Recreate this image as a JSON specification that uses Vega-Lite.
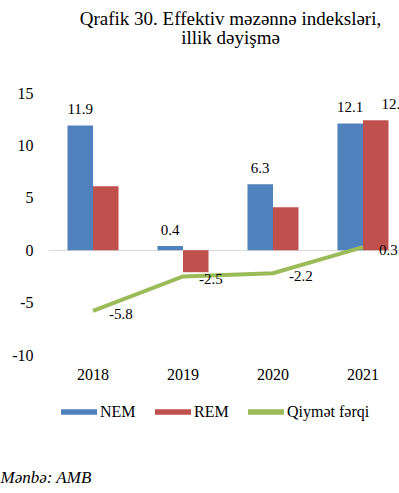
{
  "$schema": "https://vega.github.io/schema/vega-lite/v6.json",
  "width": 351,
  "height": 262,
  "autosize": {"type": "none"},
  "padding": {"left": 48, "top": 93, "right": 0, "bottom": 138},
  "background": "white",
  "config": {
    "view": {"stroke": null},
    "font": "Liberation Serif",
    "locale": {"number": {"decimal": ".", "thousands": ",", "grouping": [3], "currency": ["$", ""], "minus": "-"}}
  },
  "title": {
    "text": ["Qrafik 30. Effektiv məzənnə indeksləri,", "illik dəyişmə"],
    "font": "Liberation Serif",
    "fontSize": 19,
    "fontWeight": "normal",
    "anchor": "middle",
    "frame": "group",
    "dx": 7,
    "offset": 37,
    "lineHeight": 19,
    "color": "black"
  },
  "data": {
    "values": [
      {"year": "2018", "series": "NEM", "value": 11.9},
      {"year": "2018", "series": "REM", "value": 6.1},
      {"year": "2018", "series": "Qiymət fərqi", "value": -5.8},
      {"year": "2019", "series": "NEM", "value": 0.4},
      {"year": "2019", "series": "REM", "value": -2.1},
      {"year": "2019", "series": "Qiymət fərqi", "value": -2.5},
      {"year": "2020", "series": "NEM", "value": 6.3},
      {"year": "2020", "series": "REM", "value": 4.1},
      {"year": "2020", "series": "Qiymət fərqi", "value": -2.2},
      {"year": "2021", "series": "NEM", "value": 12.1},
      {"year": "2021", "series": "REM", "value": 12.4},
      {"year": "2021", "series": "Qiymət fərqi", "value": 0.3}
    ]
  },
  "encoding": {
    "x": {
      "field": "year", "type": "nominal",
      "scale": {"range": [0, 360], "paddingInner": 0.433, "paddingOuter": 0.2167},
      "axis": {
        "title": "Mənbə: AMB",
        "titleFont": "Liberation Serif",
        "titleFontStyle": "italic",
        "titleFontWeight": "normal",
        "titleFontSize": 17,
        "titleColor": "black",
        "titleAnchor": "start",
        "titleAlign": "left",
        "titleBaseline": "alphabetic",
        "titleX": -48,
        "titleY": 127,
        "labelAngle": 0,
        "labelFontSize": 16,
        "labelFont": "Liberation Serif",
        "labelColor": "black",
        "labelPadding": 11,
        "ticks": false,
        "domain": false,
        "grid": false
      }
    },
    "y": {
      "field": "value", "type": "quantitative",
      "scale": {"domain": [-10, 15], "nice": false, "zero": false},
      "axis": {
        "title": null,
        "values": [-10, -5, 0, 5, 10, 15],
        "format": "d",
        "labelFontSize": 16,
        "labelFont": "Liberation Serif",
        "labelColor": "black",
        "labelPadding": 15,
        "ticks": false,
        "domain": false,
        "grid": true,
        "gridColor": {"condition": {"test": "datum.value === 0", "value": "#D9D9D9"}, "value": "transparent"},
        "gridWidth": 1
      }
    }
  },
  "layer": [
    {
      "transform": [{"filter": "datum.series !== 'Qiymət fərqi'"}],
      "mark": {"type": "bar"},
      "encoding": {
        "xOffset": {"field": "series", "type": "nominal", "scale": {"domain": ["NEM", "REM"]}},
        "color": {
          "field": "series", "type": "nominal",
          "scale": {"domain": ["NEM", "REM", "Qiymət fərqi"], "range": ["#4F81BD", "#C0504D", "#9BBB59"]},
          "legend": {
            "title": null,
            "orient": "none",
            "direction": "horizontal",
            "legendX": 13,
            "legendY": 301,
            "symbolType": "M-1,-0.15H1V0.15H-1Z",
            "symbolSize": 1296,
            "symbolStrokeWidth": 0,
            "symbolOpacity": 1,
            "labelFont": "Liberation Serif",
            "labelFontSize": 16,
            "labelColor": "black",
            "labelOffset": 3,
            "columnPadding": 19,
            "encode": {
              "symbols": {
                "update": {
                  "fill": {"scale": "color", "field": "value"},
                  "strokeWidth": {"value": 0},
                  "shape": {"value": "M-1,-0.15H1V0.15H-1Z"}
                }
              }
            }
          }
        }
      }
    },
    {
      "transform": [{"filter": "datum.series === 'NEM'"}],
      "mark": {"type": "text", "baseline": "alphabetic", "dy": -11, "fontSize": 15, "font": "Liberation Serif", "color": "black"},
      "encoding": {
        "xOffset": {"field": "series", "type": "nominal"},
        "text": {"field": "value", "type": "quantitative", "format": ".1f"}
      }
    },
    {
      "transform": [{"filter": "datum.series === 'REM' && datum.year === '2021'"}],
      "mark": {"type": "text", "baseline": "alphabetic", "dy": -11, "dx": 19, "fontSize": 15, "font": "Liberation Serif", "color": "black"},
      "encoding": {
        "xOffset": {"field": "series", "type": "nominal"},
        "text": {"field": "value", "type": "quantitative", "format": ".1f"}
      }
    },
    {
      "transform": [{"filter": "datum.series === 'Qiymət fərqi'"}],
      "mark": {"type": "line", "strokeWidth": 4},
      "encoding": {
        "color": {"field": "series", "type": "nominal"}
      }
    },
    {
      "transform": [{"filter": "datum.series === 'Qiymət fərqi'"}],
      "mark": {"type": "text", "align": "left", "baseline": "middle", "dx": 16, "dy": 3, "fontSize": 15, "font": "Liberation Serif", "color": "black"},
      "encoding": {
        "text": {"field": "value", "type": "quantitative", "format": ".1f"}
      }
    }
  ]
}
